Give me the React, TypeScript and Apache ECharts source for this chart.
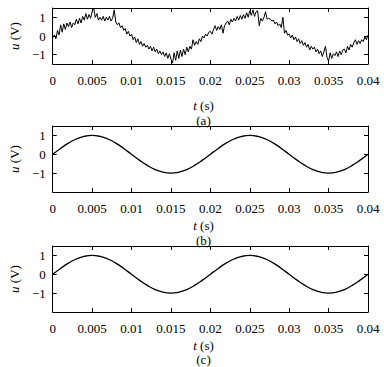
import React, { useEffect, useRef } from "react";
import * as echarts from "echarts";

// noisy signal (a): 0.0002 s step, 201 samples from 0 to 0.04
const noisyValues: number[] = [
  -0.1, 0.05, -0.15, 0.3, 0.05, 0.6, 0.2, 0.65, 0.35, 0.7,
  0.5, 0.75, 0.45, 0.7, 0.6, 0.9, 0.65, 0.95, 0.7, 1.05,
  0.85, 1.2, 0.9, 1.15, 0.95, 1.3, 1.5, 1.0, 1.2, 0.85,
  1.0, 0.85, 1.05, 0.8, 1.0, 0.85, 1.05, 0.8, 0.95, 1.4,
  0.75, 0.6, 0.7, 0.45, 0.55, 0.3, 0.4, 0.1, 0.25, 0.0,
  0.1, -0.2, -0.05, -0.35, -0.15, -0.45, -0.3, -0.55, -0.4, -0.6,
  -0.5, -0.7, -0.55, -0.8, -0.6, -0.85, -0.7, -0.95, -0.8, -1.0,
  -0.85, -1.1, -0.9, -1.2, -0.95, -1.25, -1.45, -0.9, -1.3, -0.8,
  -1.2, -0.75, -1.1, -0.7, -1.0, -0.6, -0.85, -0.55, -0.7, -0.2,
  -0.5, -0.3, -0.45, -0.15, -0.3, 0.0, -0.1, 0.1, 0.0, 0.2,
  0.25, 0.1, 0.35, 0.55, 0.3, 0.5, 0.35, 0.6, 0.15, 0.55,
  0.7, 0.8, 0.6, 0.9, 0.75, 0.95, 0.8, 1.05, 0.85, 1.1,
  0.9, 1.15, 0.95, 1.25, 1.0, 1.35, 1.1, 1.4, 1.05, 1.3,
  1.35, 0.55, 0.95, 0.8, 1.0, 1.3, 0.9, 0.95, 0.9, 0.8,
  0.85, 0.65, 0.75, 0.55, 0.65, 0.45, 1.0, 0.15, 0.3, 0.05,
  0.1, -0.1, 0.05, -0.2, -0.05, -0.3, -0.15, -0.4, -0.25, -0.5,
  -0.35, -0.6, -0.45, -0.75, -0.55, -0.7, -0.6, -0.85, -0.7, -0.95,
  -0.8, -1.1, -0.85, -0.55, -1.15, -1.35, -0.9, -1.2, -0.95, -1.05,
  -0.85, -1.1, -0.8, -1.0, -0.75, -0.7, -0.9, -0.55, -0.75, -0.45,
  -0.6, -0.35, -0.2, -0.45, -0.25, -0.4, -0.2, -0.3, -0.05, -0.2,
  0.05,
];
const noisyStep = 0.0002;

// clean signals (b) and (c): 0.001 s step, 41 samples
const cleanStep = 0.001;
const cleanB: number[] = [
  0, 0.31, 0.59, 0.81, 0.95, 1.0, 0.95, 0.81, 0.59, 0.31,
  0, -0.31, -0.59, -0.81, -0.95, -1.0, -0.95, -0.81, -0.59, -0.31,
  0, 0.31, 0.59, 0.81, 0.95, 1.0, 0.95, 0.81, 0.59, 0.31,
  0, -0.31, -0.59, -0.81, -0.95, -1.0, -0.95, -0.81, -0.59, -0.31,
  0,
];
const cleanC: number[] = [
  0, 0.31, 0.59, 0.81, 0.95, 1.0, 0.95, 0.81, 0.59, 0.31,
  0, -0.31, -0.59, -0.81, -0.95, -1.0, -0.95, -0.81, -0.59, -0.31,
  0, 0.31, 0.59, 0.81, 0.95, 1.0, 0.95, 0.81, 0.59, 0.31,
  0, -0.31, -0.59, -0.81, -0.95, -1.0, -0.95, -0.81, -0.59, -0.31,
  0,
];

const yTicks = [-1, 0, 1];
const yMins = [-1.5, -2, -2];
const yMax = 1.5;
const captions = ["(a)", "(b)", "(c)"];

const FONT = "'Liberation Serif', 'Times New Roman', Times, serif";

export default function App() {
  const ref = useRef<HTMLDivElement>(null);
  useEffect(() => {
    if (!ref.current) return;
    const chart = echarts.init(ref.current, undefined, { renderer: "svg" });

    const gridTops = [8, 126, 246];
    const gridHs = [56, 66, 66];
    const nameYs = [105, 225, 345];
    const capYs = [120, 240, 359];
    const grids = gridTops.map((t, i) => ({ left: 39, right: 16, top: t, height: gridHs[i] }));

    const toPairs = (vals: number[], step: number) =>
      vals.map((v, i) => [+(i * step).toFixed(5), v]);

    const xFmt = (v: number) => String(+v.toFixed(3));

    const xAxes: any[] = [];
    const yAxes: any[] = [];
    grids.forEach((_, gi) => {
      const base = {
        type: "value",
        gridIndex: gi,
        min: 0,
        max: 0.04,
        interval: 0.005,
        splitLine: { show: false },
        axisLine: { show: true, onZero: false, lineStyle: { color: "#000", width: 1 } },
        axisTick: { show: true, inside: true, length: 4, lineStyle: { color: "#000" } },
      };
      xAxes.push({
        ...base,
        position: "bottom",
        axisLabel: {
          show: true,
          color: "#000",
          fontFamily: FONT,
          fontSize: 13,
          margin: 10,
          formatter: xFmt,
        },
      });
      xAxes.push({ ...base, position: "top", axisLabel: { show: false } });
      const ybase = {
        type: "value",
        gridIndex: gi,
        min: yMins[gi],
        max: yMax,
        splitLine: { show: false },
        axisLine: { show: true, onZero: false, lineStyle: { color: "#000", width: 1 } },
        axisTick: {
          show: true,
          inside: true,
          length: 4,
          customValues: yTicks,
          lineStyle: { color: "#000" },
        },
      };
      yAxes.push({
        ...ybase,
        position: "left",
        axisLabel: {
          show: true,
          color: "#000",
          fontFamily: FONT,
          fontSize: 13,
          margin: 7,
          customValues: yTicks,
          formatter: (v: number) => (v < 0 ? "\u2212" + Math.abs(v) : String(v)),
        },
        name: "{i|u} (V)",
        nameLocation: "middle",
        nameGap: 26,
        nameRotate: 90,
        nameTextStyle: {
          color: "#000",
          fontFamily: FONT,
          fontSize: 13,
          rich: { i: { fontStyle: "italic", fontFamily: FONT, fontSize: 13, color: "#000" } },
        },
      });
      yAxes.push({ ...ybase, position: "right", axisLabel: { show: false } });
    });

    const seriesData = [
      toPairs(noisyValues, noisyStep),
      toPairs(cleanB, cleanStep),
      toPairs(cleanC, cleanStep),
    ];

    const series = seriesData.map((d, gi) => ({
      type: "line",
      xAxisIndex: gi * 2,
      yAxisIndex: gi * 2,
      data: d,
      showSymbol: false,
      smooth: gi !== 0,
      lineStyle: { color: "#000", width: gi === 0 ? 1 : 1.3 },
    }));

    const cx = 203.5;
    const graphics: any[] = [];
    captions.forEach((c, gi) => {
      graphics.push({
        type: "text",
        x: cx,
        y: nameYs[gi],
        style: {
          text: "{i|t} (s)",
          fill: "#000",
          fontFamily: FONT,
          fontSize: 13,
          align: "center",
          verticalAlign: "middle",
          rich: { i: { fontStyle: "italic", fontFamily: FONT, fontSize: 13, fill: "#000" } },
        },
      });
      graphics.push({
        type: "text",
        x: cx,
        y: capYs[gi],
        style: {
          text: c,
          fill: "#000",
          fontFamily: FONT,
          fontSize: 13,
          align: "center",
          verticalAlign: "middle",
        },
      });
    });

    chart.setOption({
      animation: false,
      backgroundColor: "#fff",
      grid: grids,
      xAxis: xAxes,
      yAxis: yAxes,
      series,
      graphic: graphics,
    });
    return () => chart.dispose();
  }, []);
  return (
    <div
      ref={ref}
      style={{ position: "fixed", left: 0, top: 0, width: 384, height: 367, background: "#fff" }}
    />
  );
}
